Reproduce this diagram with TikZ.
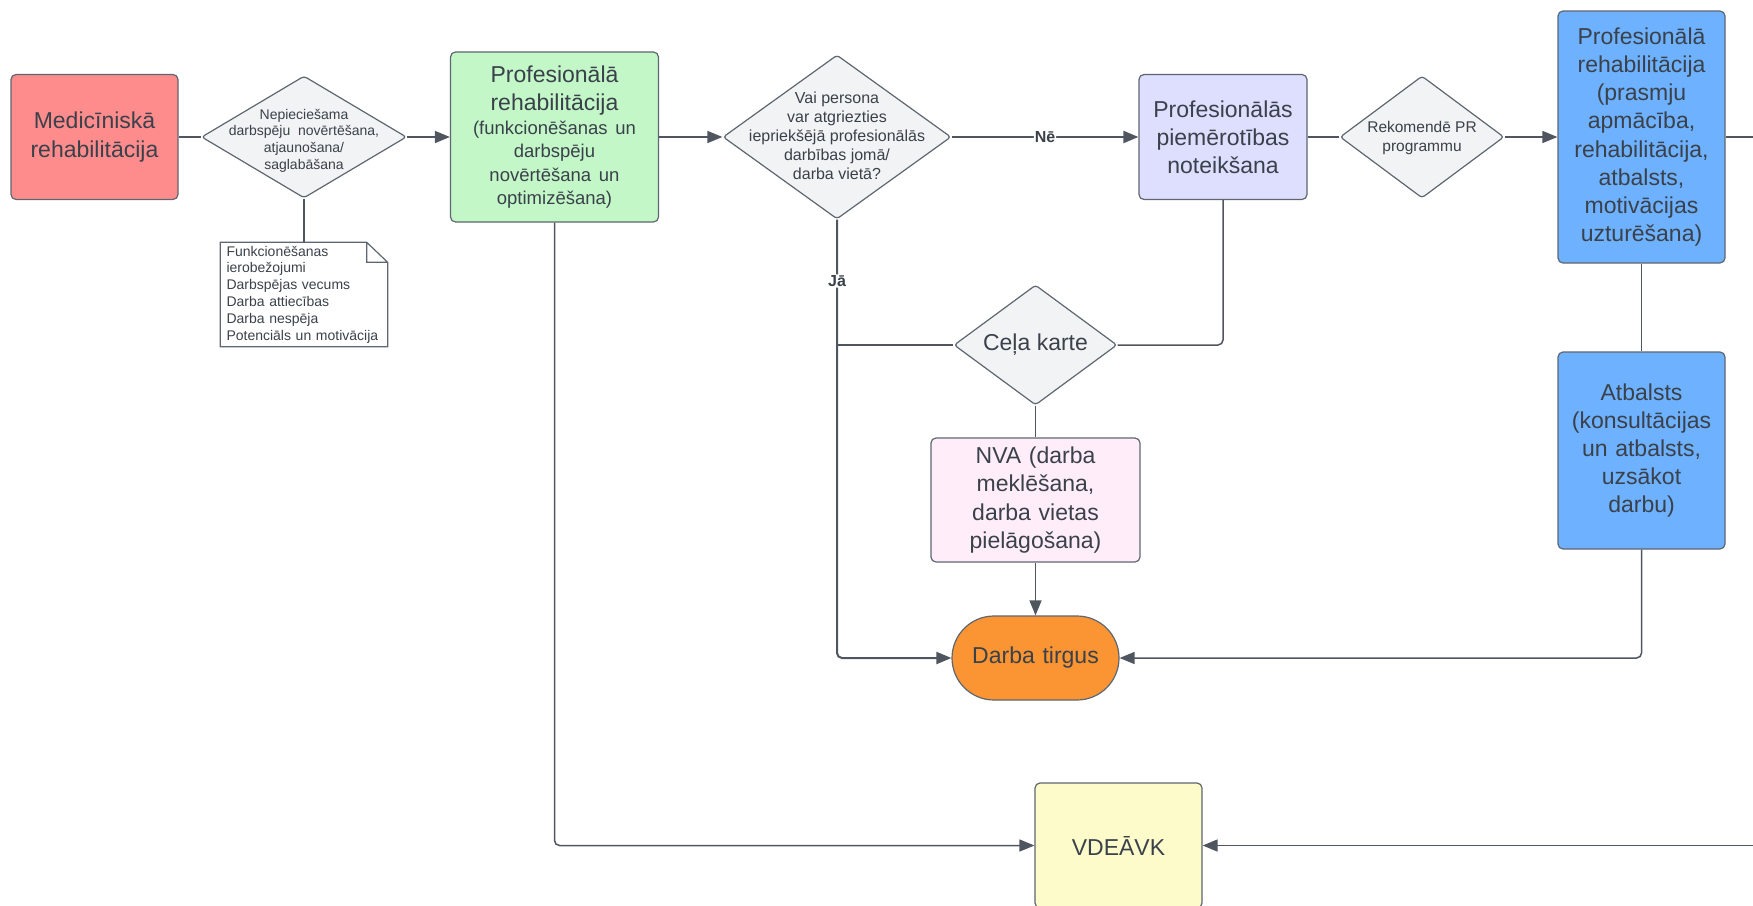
\documentclass[tikz,border=0pt]{standalone}
\usepackage{fontspec}
\setmainfont{Liberation Sans}
\usetikzlibrary{shapes.geometric,arrows.meta}
\definecolor{ink}{HTML}{3A414A}
\definecolor{edge}{HTML}{5E6670}
\definecolor{wire}{HTML}{50565F}
\definecolor{medc}{HTML}{FF8C8C}
\definecolor{dfill}{HTML}{F2F3F5}
\definecolor{grn}{HTML}{C3F7C8}
\definecolor{lav}{HTML}{DEDEFF}
\definecolor{blu}{HTML}{6DB1FF}
\definecolor{pnk}{HTML}{FFEEFA}
\definecolor{org}{HTML}{FB9432}
\definecolor{ylw}{HTML}{FCFBC9}
\newcommand\ctr[2][0pt]{\raisebox{\dimexpr-.25em-#1\relax}[0pt][0pt]{\makebox[0pt]{\begin{tabular}{@{}c@{}}#2\end{tabular}}}}

\begin{document}
\begin{tikzpicture}[x=1pt, y=-1pt,
    >={Triangle[length=15pt,width=12pt]},
    every node/.style={text=ink},
    box/.style={draw=edge, line width=1.2pt, rounded corners=5pt, align=center, inner sep=4pt},
    dia/.style={draw=edge, line width=1.2pt, diamond, fill=dfill, inner sep=0pt, rounded corners=3pt},
    big/.style={font=\fontsize{23}{28.2}\selectfont},
    lbl/.style={fill=white, inner sep=1pt, font=\fontsize{16}{19}\selectfont\bfseries}]
    \useasboundingbox (0,0) rectangle (1753,905);
    \clip (0,0) rectangle (1753,905);

    \node[box, fill=medc, minimum width=167, minimum height=125, text width=159, big] (med) at (94.5,137) {Medicīniskā\\rehabilitācija};
    \node[dia, minimum width=205, minimum height=122, font=\fontsize{14}{16.8}\selectfont] (q1) at (304,137) {\ctr[4pt]{Nepieciešama\\darbspēju\ \ novērtēšana,\\atjaunošana/\\saglabāšana}};
    \node[minimum height=104, text width=155, inner xsep=6pt, align=left, font=\fontsize{14}{16.8}\selectfont] (nt) at (304,294.5) {Funkcionēšanas\\ierobežojumi\\Darbspējas vecums\\Darba attiecības\\Darba nespēja\\Potenciāls un motivācija};
    \draw[edge, line width=1.2pt] (nt.north west) -- ([xshift=-21pt]nt.north east) -- ([yshift=-20pt]nt.north east) -- (nt.south east) -- (nt.south west) -- cycle
      ([xshift=-21pt]nt.north east) -- ([xshift=-21pt,yshift=-20pt]nt.north east) -- ([yshift=-20pt]nt.north east);
    \node[box, fill=grn, minimum width=208, minimum height=170, text width=200, big] (gr) at (554.5,137) {Profesionālā\\rehabilitācija\\{\fontsize{18.5}{23.5}\selectfont(funkcionēšanas un\\darbspēju\\novērtēšana un\\optimizēšana)\par}};
    \node[dia, minimum width=228, minimum height=164, font=\fontsize{16}{19}\selectfont] (q2) at (837,137) {\ctr[1pt]{Vai persona\\var atgriezties\\iepriekšējā profesionālās\\darbības jomā/\\darba vietā?}};
    \node[box, fill=lav, minimum width=168, minimum height=125, text width=160, big] (pm) at (1223,137) {Profesionālās\\piemērotības\\noteikšana};
    \node[dia, minimum width=164, minimum height=122, font=\fontsize{15.5}{18.5}\selectfont] (q3) at (1422,137) {\ctr[1pt]{Rekomendē PR\\programmu}};
    \node[box, fill=blu, minimum width=167, minimum height=252, text width=159, big] (b1) at (1641.5,137) {Profesionālā\\rehabilitācija\\(prasmju\\apmācība,\\rehabilitācija,\\atbalsts,\\motivācijas\\uzturēšana)};
    \node[box, fill=blu, minimum width=167, minimum height=197, text width=159, big] (b2) at (1641.5,450.5) {Atbalsts\\(konsultācijas\\un atbalsts,\\uzsākot\\darbu)};
    \node[dia, minimum width=163, minimum height=120, big] (ck) at (1035.5,345) {\ctr{Ceļa karte}};
    \node[box, fill=pnk, minimum width=209, minimum height=124, text width=201, big] (nva) at (1035.5,500) {NVA (darba\\meklēšana,\\darba vietas\\pielāgošana)};
    \node[box, fill=org, rounded corners=42pt, minimum width=167, minimum height=84, text width=159, big] (dt) at (1035.5,658) {Darba tirgus};
    \node[box, fill=ylw, minimum width=167, minimum height=125, text width=159, big] (vd) at (1118.5,845.5) {VDEĀVK};
    \coordinate (e1) at (1765,137);
    \coordinate (e2) at (1765,845.5);

    \begin{scope}[wire, line width=1.5pt, rounded corners=5pt]
      \draw (med) -- (q1) ;
      \draw (q1) -- (nt) ;
      \draw (pm) -- (q3) ;
      \draw (b1) -- (e1) ;
      \draw (b1) -- (b2) ;
      \draw (ck) -- (nva) ;
      \draw (pm) |- (ck) ;
      \draw (ck) -- (ck -| q2) ;
    \end{scope}
    \begin{scope}[->, wire, line width=1.5pt, rounded corners=5pt]
      \draw (q1) -- (gr) ;
      \draw (gr) -- (q2) ;
      \draw[line width=2pt] (q2) -- node[lbl] {Nē} (pm) ;
      \draw (q3) -- (b1) ;
      \draw[line width=2pt] (q2) |- node[lbl, pos=.07] {Jā} (dt) ;
      \draw (nva) -- (dt) ;
      \draw (b2) |- (dt) ;
      \draw (gr) |- (vd) ;
      \draw (e2) -- (vd) ;
    \end{scope}
  \end{tikzpicture}
\end{document}
